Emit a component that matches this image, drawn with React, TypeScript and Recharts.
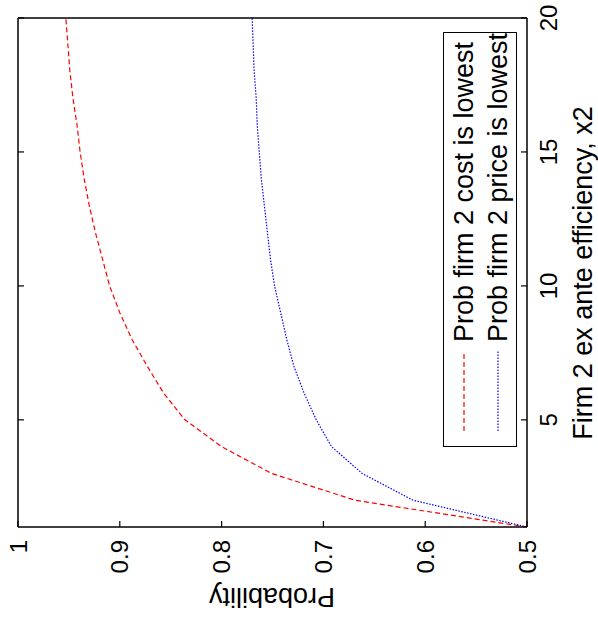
import { LineChart, Line, XAxis, YAxis } from "recharts";

// firm 2 ex ante efficiency
const X2 = [1, 2, 3, 4, 5, 6, 7, 8, 9, 10, 11, 12, 13, 14, 15, 16, 17, 18, 19, 20];
const COST_LOWEST = [
  0.5, 0.669, 0.751, 0.8, 0.836, 0.857, 0.873, 0.888, 0.9, 0.91, 0.917, 0.924, 0.93,
  0.935, 0.939, 0.942, 0.946, 0.949, 0.951, 0.953,
];
const PRICE_LOWEST = [
  0.5, 0.612, 0.662, 0.692, 0.707, 0.719, 0.729, 0.736, 0.742, 0.748, 0.752, 0.755,
  0.758, 0.761, 0.763, 0.765, 0.766, 0.768, 0.769, 0.77,
];
const X_TICKS = [5, 10, 15, 20];
const Y_TICKS = [0.5, 0.6, 0.7, 0.8, 0.9, 1];
const SERIES = [
  { key: "cost", name: "Prob firm 2 cost is lowest", color: "#ff0000", dash: "5 3" },
  { key: "price", name: "Prob firm 2 price is lowest", color: "#0000ff", dash: "1.5 1.5" },
];

const FONT = "'Liberation Sans', Arial, Helvetica, sans-serif";
const TICK_LEN = 6;
const GAP = 13;

const rows = X2.map((x, i) => ({ x, cost: COST_LOWEST[i], price: PRICE_LOWEST[i] }));

const fmtY = (v: number) => (v === 1 ? "1" : v.toFixed(1));

function BottomTick(props: any) {
  const { x, y, payload } = props;
  const ay = y - GAP;
  return (
    <g>
      <line x1={x} x2={x} y1={ay} y2={ay - TICK_LEN} stroke="#000" strokeWidth={1.2} />
      <text x={x} y={y} dy="0.71em" textAnchor="middle" fontSize={24} fontFamily={FONT} fill="#000">
        {payload.value}
      </text>
    </g>
  );
}

function TopTick(props: any) {
  const { x, y } = props;
  return <line x1={x} x2={x} y1={y} y2={y + TICK_LEN} stroke="#000" strokeWidth={1.2} />;
}

function LeftTick(props: any) {
  const { x, y, payload } = props;
  const ax = x + GAP;
  return (
    <g>
      <line x1={ax} x2={ax + TICK_LEN} y1={y} y2={y} stroke="#000" strokeWidth={1.2} />
      <text x={x} y={y} dy="0.355em" textAnchor="end" fontSize={24} fontFamily={FONT} fill="#000">
        {fmtY(payload.value)}
      </text>
    </g>
  );
}

function RightTick(props: any) {
  const { x, y } = props;
  return <line x1={x} x2={x - TICK_LEN} y1={y} y2={y} stroke="#000" strokeWidth={1.2} />;
}

function LegendBox() {
  return (
    <div
      style={{
        position: "absolute",
        left: 172,
        top: 443,
        width: 415,
        height: 74,
        boxSizing: "border-box",
        border: "1.5px solid #000",
        background: "#fff",
        fontFamily: FONT,
        fontSize: 27,
      }}
    >
      {SERIES.map((s, i) => (
        <div
          key={s.key}
          style={{
            position: "absolute",
            left: 14,
            top: 4 + i * 34,
            height: 32,
            display: "flex",
            alignItems: "center",
            whiteSpace: "nowrap",
          }}
        >
          <svg width={82} height={10} style={{ marginRight: 8 }}>
            <line x1={1} x2={81} y1={5} y2={5} stroke={s.color} strokeWidth={1.2} strokeDasharray={s.dash} />
          </svg>
          <span>{s.name}</span>
        </div>
      ))}
    </div>
  );
}

export default function App() {
  return (
    <div
      style={{
        position: "fixed",
        left: 0,
        top: 0,
        width: 598,
        height: 619,
        overflow: "hidden",
        background: "#fff",
      }}
    >
      <div
        style={{
          position: "absolute",
          left: 0,
          top: 0,
          width: 619,
          height: 598,
          transformOrigin: "0 0",
          transform: "translate(0px, 619px) rotate(-90deg)",
        }}
      >
        <LineChart width={619} height={598} data={rows} margin={{ top: 17, right: 17, bottom: 0, left: 0 }}>
          <XAxis
            xAxisId="b"
            dataKey="x"
            type="number"
            domain={[1, 20]}
            ticks={X_TICKS}
            interval={0}
            height={71}
            tickSize={0}
            tickMargin={GAP}
            tick={<BottomTick />}
            axisLine={{ stroke: "#000", strokeWidth: 1.5 }}
          />
          <XAxis
            xAxisId="t"
            orientation="top"
            dataKey="x"
            type="number"
            domain={[1, 20]}
            ticks={X_TICKS}
            interval={0}
            height={1}
            tickSize={0}
            tickMargin={0}
            tick={<TopTick />}
            axisLine={{ stroke: "#000", strokeWidth: 1.5 }}
          />
          <YAxis
            yAxisId="l"
            type="number"
            domain={[0.5, 1]}
            ticks={Y_TICKS}
            interval={0}
            width={92}
            tickSize={0}
            tickMargin={GAP}
            tick={<LeftTick />}
            axisLine={{ stroke: "#000", strokeWidth: 1.5 }}
          />
          <YAxis
            yAxisId="r"
            orientation="right"
            type="number"
            domain={[0.5, 1]}
            ticks={Y_TICKS}
            interval={0}
            width={1}
            tickSize={0}
            tickMargin={0}
            tick={<RightTick />}
            axisLine={{ stroke: "#000", strokeWidth: 1.5 }}
          />
          {SERIES.map((s) => (
            <Line
              key={s.key}
              xAxisId="b"
              yAxisId="l"
              dataKey={s.key}
              name={s.name}
              type="linear"
              stroke={s.color}
              strokeWidth={1.2}
              strokeDasharray={s.dash}
              dot={false}
              isAnimationActive={false}
            />
          ))}
          <text x={346} y={592} textAnchor="middle" fontSize={27} fontFamily={FONT} fill="#000">
            Firm 2 ex ante efficiency, x2
          </text>
          <text
            x={31}
            y={272}
            textAnchor="middle"
            fontSize={27}
            fontFamily={FONT}
            fill="#000"
            transform="rotate(-90, 31, 272)"
          >
            Probability
          </text>
        </LineChart>
        <LegendBox />
      </div>
    </div>
  );
}
